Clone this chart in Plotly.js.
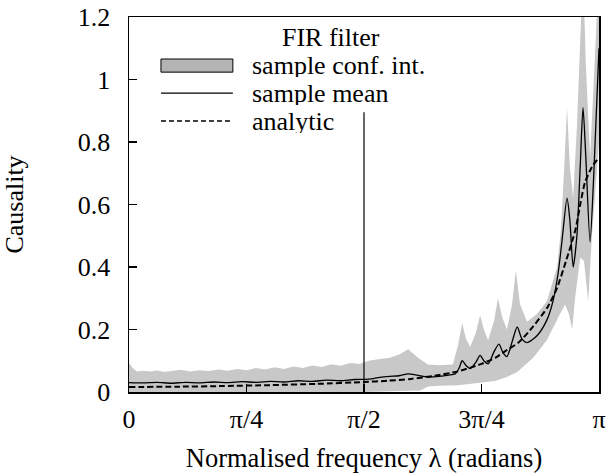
<!DOCTYPE html>
<html>
<head>
<meta charset="utf-8">
<script src="https://cdn.plot.ly/plotly-3.0.1.min.js"></script>
<style>html,body{margin:0;padding:0;background:#fff;}#chart{width:608px;height:473px;}</style>
</head>
<body>
<div id="chart"></div>
<script>
// x values are in units of pi (0 .. 1  ->  0 .. pi radians)
const tickVals = [0, 0.25, 0.5, 0.75, 1];
const tickLabels = ['0', 'π/4', 'π/2', '3π/4', 'π'];

// sample confidence interval: upper edge
const upperX = [0, 0.009, 0.017, 0.03, 0.045, 0.06, 0.075, 0.09, 0.11, 0.13, 0.15, 0.17, 0.19, 0.21, 0.23, 0.25, 0.27, 0.29, 0.31, 0.33, 0.35, 0.37, 0.39, 0.41, 0.43, 0.45, 0.47, 0.49, 0.51, 0.53, 0.555, 0.575, 0.594, 0.615, 0.636, 0.66, 0.689, 0.70, 0.709, 0.717, 0.726, 0.738, 0.747, 0.755, 0.764, 0.777, 0.785, 0.794, 0.804, 0.815, 0.823, 0.832, 0.847, 0.868, 0.889, 0.911, 0.919, 0.926, 0.932, 0.938, 0.945, 0.953, 0.96, 0.966, 0.972, 0.981, 0.989, 1.0];
const upperY = [0.092, 0.075, 0.066, 0.068, 0.066, 0.069, 0.064, 0.068, 0.071, 0.066, 0.07, 0.067, 0.072, 0.068, 0.074, 0.07, 0.077, 0.072, 0.079, 0.074, 0.082, 0.077, 0.085, 0.08, 0.089, 0.084, 0.093, 0.09, 0.1, 0.105, 0.11, 0.12, 0.137, 0.11, 0.088, 0.086, 0.088, 0.15, 0.22, 0.17, 0.145, 0.19, 0.246, 0.2, 0.166, 0.23, 0.30, 0.24, 0.2, 0.28, 0.39, 0.28, 0.225, 0.25, 0.29, 0.40, 0.52, 0.72, 0.91, 0.72, 0.62, 0.85, 1.15, 1.35, 1.05, 0.75, 1.0, 1.35];

// sample confidence interval: lower edge
const lowerX = [0, 0.5, 0.62, 0.636, 0.66, 0.70, 0.747, 0.779, 0.804, 0.826, 0.86, 0.889, 0.917, 0.928, 0.936, 0.943, 0.949, 0.96, 0.968, 0.977, 0.985, 1.0];
const lowerY = [0.0, 0.0, 0.005, 0.018, 0.02, 0.022, 0.03, 0.035, 0.048, 0.064, 0.11, 0.166, 0.25, 0.28, 0.25, 0.20, 0.30, 0.43, 0.42, 0.29, 0.5, 0.8];

// sample mean
const meanX = [0, 0.03, 0.06, 0.09, 0.12, 0.15, 0.18, 0.21, 0.24, 0.27, 0.30, 0.33, 0.36, 0.39, 0.42, 0.45, 0.48, 0.51, 0.534, 0.555, 0.575, 0.594, 0.615, 0.636, 0.66, 0.68, 0.694, 0.702, 0.709, 0.717, 0.726, 0.738, 0.747, 0.755, 0.764, 0.777, 0.787, 0.796, 0.804, 0.815, 0.826, 0.836, 0.847, 0.868, 0.889, 0.902, 0.913, 0.921, 0.932, 0.938, 0.945, 0.953, 0.96, 0.966, 0.972, 0.981, 0.989, 1.0];
const meanY = [0.030, 0.029, 0.031, 0.028, 0.031, 0.029, 0.032, 0.030, 0.033, 0.031, 0.034, 0.032, 0.036, 0.034, 0.038, 0.036, 0.040, 0.041, 0.047, 0.050, 0.052, 0.058, 0.053, 0.048, 0.050, 0.054, 0.058, 0.075, 0.10, 0.085, 0.075, 0.095, 0.117, 0.10, 0.09, 0.13, 0.153, 0.125, 0.113, 0.16, 0.208, 0.17, 0.158, 0.18, 0.23, 0.29, 0.38, 0.48, 0.62, 0.55, 0.40, 0.50, 0.72, 0.91, 0.75, 0.48, 0.70, 1.10];

// analytic
const analyticX = [0, 0.1, 0.2, 0.3, 0.4, 0.5, 0.55, 0.6, 0.65, 0.7, 0.75, 0.78, 0.80, 0.83, 0.86, 0.89, 0.91, 0.93, 0.95, 0.96, 0.97, 0.985, 1.0];
const analyticY = [0.016, 0.017, 0.019, 0.022, 0.026, 0.032, 0.036, 0.042, 0.052, 0.066, 0.09, 0.11, 0.13, 0.16, 0.21, 0.27, 0.33, 0.42, 0.52, 0.60, 0.67, 0.72, 0.75];

// vertical marker at pi/2
const markerX = [0.5, 0.5];
const markerY = [0, 0.895];

const legendTitle = 'FIR filter';
const legendLabels = ['sample conf. int.', 'sample mean', 'analytic'];

const FONT = "'Liberation Serif', 'Times New Roman', serif";
const bandColor = 'rgb(200,200,200)';

const bandX = upperX.concat(lowerX.slice().reverse());
const bandY = upperY.concat(lowerY.slice().reverse());

const traces = [
  {x: bandX, y: bandY, type: 'scatter', mode: 'lines', fill: 'toself',
   fillcolor: bandColor, line: {width: 0, color: bandColor}, hoverinfo: 'skip', showlegend: false},
  {x: analyticX, y: analyticY, type: 'scatter', mode: 'lines',
   line: {color: 'black', width: 2, dash: '6px,3px', shape: 'spline', smoothing: 0.6}, showlegend: false},
  {x: meanX, y: meanY, type: 'scatter', mode: 'lines',
   line: {color: 'black', width: 1.3, shape: 'spline', smoothing: 0.7}, showlegend: false},
  {x: markerX, y: markerY, type: 'scatter', mode: 'lines',
   line: {color: 'black', width: 1.2}, showlegend: false}
];

// legend drawn in paper coordinates
const shapes = [
  {type: 'rect', xref: 'paper', yref: 'paper', x0: 0.068, x1: 0.221, y0: 0.853, y1: 0.888,
   fillcolor: 'rgb(180,180,180)', line: {color: 'black', width: 1}},
  {type: 'line', xref: 'paper', yref: 'paper', x0: 0.068, x1: 0.221, y0: 0.797, y1: 0.797,
   line: {color: 'black', width: 1.3}},
  {type: 'line', xref: 'paper', yref: 'paper', x0: 0.068, x1: 0.221, y0: 0.7227, y1: 0.7227,
   line: {color: 'black', width: 1.5, dash: '5px,3px'}}
];
const legendRowsY = [0.872, 0.7973, 0.7227];
const annotations = [
  {xref: 'paper', yref: 'paper', x: 0.43, y: 0.9467, text: legendTitle, showarrow: false,
   xanchor: 'center', yanchor: 'middle', height: 24, valign: 'middle',
   font: {family: FONT, size: 26, color: 'black'}}
].concat(legendLabels.map((t, i) => ({
  xref: 'paper', yref: 'paper', x: 0.257, y: legendRowsY[i], text: t, showarrow: false,
  xanchor: 'left', yanchor: 'middle', height: 24, valign: 'middle',
  font: {family: FONT, size: 26, color: 'black'}
})));

const layout = {
  width: 608, height: 473,
  margin: {l: 129, r: 9, t: 17, b: 81, pad: 0},
  paper_bgcolor: 'white', plot_bgcolor: 'white',
  font: {family: FONT, size: 26, color: 'black'},
  showlegend: false,
  xaxis: {
    range: [0, 1], tickvals: tickVals, ticktext: tickLabels,
    ticks: 'inside', ticklen: 8, tickwidth: 1.2, tickcolor: 'black',
    showline: true, linecolor: 'black', linewidth: 1.5, mirror: true,
    showgrid: false, zeroline: false, ticklabelstandoff: 3,
    tickfont: {family: FONT, size: 26, color: 'black'},
    title: {text: 'Normalised frequency λ (radians)', font: {family: FONT, size: 26.5, color: 'black'}, standoff: 19}
  },
  yaxis: {
    range: [0, 1.2], tickvals: [0, 0.2, 0.4, 0.6, 0.8, 1, 1.2],
    ticks: 'inside', ticklen: 8, tickwidth: 1.2, tickcolor: 'black',
    showline: true, linecolor: 'black', linewidth: 1.5, mirror: true,
    showgrid: false, zeroline: false, ticklabelstandoff: 12,
    tickfont: {family: FONT, size: 26, color: 'black'},
    title: {text: 'Causality', font: {family: FONT, size: 26, color: 'black'}, standoff: 46}
  },
  shapes: shapes,
  annotations: annotations
};

Plotly.newPlot('chart', traces, layout, {displayModeBar: false, staticPlot: true});
</script>
</body>
</html>
